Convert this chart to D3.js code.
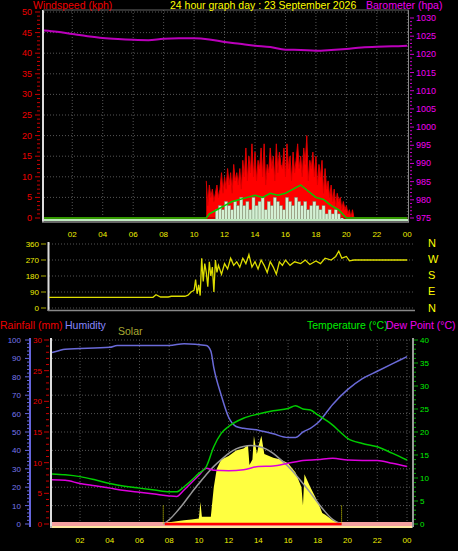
<!DOCTYPE html><html><head><meta charset="utf-8">
<script src="https://cdn.jsdelivr.net/npm/d3@7/dist/d3.min.js"></script>
<style>body{margin:0;background:#000}svg{display:block}text{font-family:"Liberation Sans",Arial,sans-serif}</style></head><body>
<script>
const hourTicks=[2,4,6,8,10,12,14,16,18,20,22,24];
const hourLabels=["02","04","06","08","10","12","14","16","18","20","22","00"];
// barometer [hour, hpa]
const baro=[[0,1026.6],[1,1026.2],[2,1025.6],[3,1025],[4,1024.5],[5,1024.2],[6,1024],[7,1023.9],[8,1024.3],[9,1024.4],[10,1024.4],[11,1024.1],[12,1023.4],[13,1022.9],[14,1022.4],[15,1022],[16,1021.3],[17,1021.2],[18,1021],[19,1021.2],[20,1021.5],[21,1021.9],[22,1022.1],[23,1022.2],[24,1022.4]];
// gust kph, every 0.1h from 10.8
const gustStart=10.8;
const gust=[9,3,8,5,7,4,6,8,5,7,11,6, 10,7,12,8,11,6,13,9,11,8, 12,7,14,10,17,9,15,11,18,10, 16,9,14,12,17,10,18,8,13,11, 17,12,15,9,18,11,16,13,12,17, 10,18,12,15,9,16,11,14,18,12, 15,10,17,13,20,9,14,12,16,10, 15,8,13,10,14,6,12,7,9,5, 8,4,7,3,6,4,5,2,4,2, 3,1,2,0,2,0,0];
const avgWind=[[0,0],[10.8,0],[11,1],[11.5,2],[12,3],[12.5,4],[13,4.5],[13.5,5],[14,5.5],[14.5,5],[15,6],[15.5,5.5],[16,6],[16.5,7],[17,8],[17.5,6.5],[18,5],[18.5,4.5],[19,3],[19.5,2],[20,0],[24,0]];
// wind speed bars every 0.2h from 11.4
const speedStart=11.4;
const speed=[2,3,2,4,3,2,4,3,5,3,4,2,5,3,4,5,2,4,3,5,4,3,2,5,4,3,5,4,3,4,2,3,4,3,2,3,1,2,1,2,1,0];
// wind direction [hour, deg]
const dir=[[0,60],[7.3,60],[7.5,75],[7.8,62],[8.3,62],[8.5,66],[9.4,66],[9.6,72],[9.8,90],[10,100],[10.1,160],[10.2,80],[10.3,130],[10.4,70],[10.5,280],[10.6,150],[10.7,250],[10.8,200],[10.9,120],[11,260],[11.1,180],[11.2,230],[11.3,90],[11.4,270],[11.5,200],[11.6,240],[11.8,190],[12,250],[12.2,220],[12.4,280],[12.6,240],[12.8,260],[13,230],[13.2,280],[13.4,250],[13.6,300],[13.8,230],[14,260],[14.2,220],[14.4,270],[14.6,240],[14.8,200],[15,260],[15.2,230],[15.4,190],[15.6,260],[15.8,240],[16,270],[16.3,240],[16.6,260],[17,250],[17.3,270],[17.6,245],[18,265],[18.3,250],[18.6,280],[19,270],[19.3,290],[19.5,320],[19.7,280],[20,290],[20.2,265],[20.5,270],[24,270]];
// bottom panel
const hum=[[0,93],[0.5,94],[1,95],[4,96],[4.5,97],[8,97],[9,98],[10.5,97],[10.8,94],[11,85],[11.5,70],[12,58],[12.5,53],[13,52],[14,51],[15,49],[16,47],[16.5,47],[17,50],[17.5,52],[18,55],[19,65],[20,73],[21,79],[22,83],[23,87],[24,91]];
const temp=[[0,10.9],[1,10.7],[2,10.3],[3,9.6],[4,8.8],[5,8.2],[6,7.8],[7,7.4],[8,7],[8.5,7],[9,8.1],[10,11],[10.5,12.5],[11,16.8],[11.5,19.7],[12,21.2],[13,23],[14,23.9],[15,24.6],[16,25.1],[16.5,25.7],[17,25],[17.5,24.8],[18,23.7],[19,21.5],[19.5,20],[20,18.6],[21,17.5],[22,16.8],[23,15.4],[24,13.9]];
const dew=[[0,9.6],[1,9.5],[2,8.8],[3,8.3],[4,7.8],[5,7.3],[6,6.9],[7,6.5],[8,6.1],[8.5,6],[9,7.4],[10,10.6],[10.5,12.1],[11,11.7],[12,11.6],[13,11.8],[14,12.5],[15,12.6],[16,13.2],[17,13.8],[18,14],[19,14.3],[20,13.9],[21,13.8],[22,13.8],[23,13.2],[24,12.5]];
const solar=[[7.6,0],[8,1],[9,2],[9.5,2.5],[10,3],[10.1,12],[10.2,4],[10.8,4],[11,20],[11.2,30],[11.5,35],[12,37],[12.5,40],[13,41],[13.3,43],[13.4,32],[13.6,35],[13.7,48],[13.9,38],[14,42],[14.2,48],[14.4,38],[15,36],[15.5,35],[16,33],[16.5,28],[16.9,20],[17,10],[17.1,27],[17.5,20],[18,12],[18.3,6],[18.5,5],[19,2],[19.6,0]];
const solarMax=[[7.6,0],[8,2],[8.5,6.5],[9,11.5],[9.5,17],[10,22],[10.5,27],[11,31.5],[11.5,35],[12,38.5],[12.5,41],[13,42.3],[13.5,42.8],[14,42.3],[14.5,41],[15,38.5],[15.5,35],[16,31.5],[16.5,27],[17,22],[17.5,17],[18,11.5],[18.5,6.5],[19,2],[19.6,0]];
const sunTimes=[7.6,19.6];

const W=458,H=551;
const svg=d3.select("body").append("svg").attr("width",W).attr("height",H);
const dotted="#555";
function txt(x,y,s,c,size,anchor){return svg.append("text").attr("x",x).attr("y",y).attr("fill",c).attr("font-size",size||9).attr("text-anchor",anchor||"start").text(s);}

// ---------- top panel ----------
const xT=d3.scaleLinear([0,24],[41.8,407.3]);
const yW=d3.scaleLinear([0,50],[218,12]);
const yB=d3.scaleLinear([975,1030],[218,18]);
const gT=svg.append("g");
gT.selectAll(".hg").data(d3.range(0,51,5)).join("line").attr("x1",44).attr("x2",408).attr("y1",d=>yW(d)).attr("y2",d=>yW(d)).attr("stroke",dotted).attr("stroke-dasharray","1,2");
gT.selectAll(".vg").data(hourTicks).join("line").attr("x1",d=>xT(d)).attr("x2",d=>xT(d)).attr("y1",10).attr("y2",221).attr("stroke",dotted).attr("stroke-dasharray","1,2");
gT.selectAll(".ml").data(d3.range(0,51,1)).join("line").attr("x1",d=>d%5?37:35).attr("x2",40).attr("y1",d=>yW(d)).attr("y2",d=>yW(d)).attr("stroke","#c00");
gT.selectAll(".lt").data(d3.range(0,51,5)).join("text").attr("x",32).attr("y",d=>yW(d)+3).attr("text-anchor","end").attr("fill","#e00").attr("font-size",9).text(d=>d);
gT.selectAll(".mr").data(d3.range(975,1031,1)).join("line").attr("x1",410).attr("x2",d=>d%5?412:414).attr("y1",d=>yB(d)).attr("y2",d=>yB(d)).attr("stroke","#c0c");
gT.selectAll(".rt").data(d3.range(975,1031,5)).join("text").attr("x",416).attr("y",d=>yB(d)+3).attr("fill","#e0e").attr("font-size",9).text(d=>d);
svg.append("clipPath").attr("id","ct").append("rect").attr("x",44).attr("y",10).attr("width",364).attr("height",211);
const pT=svg.append("g").attr("clip-path","url(#ct)");
const gustPts=gust.map((v,i)=>[gustStart+i*0.1,v]);
pT.append("path").datum(gustPts).attr("d",d3.area().x(d=>xT(d[0])).y0(yW(0)).y1(d=>yW(d[1]))).attr("fill","#f00");
pT.append("path").datum(gustPts).attr("d",d3.line().x(d=>xT(d[0])).y(d=>yW(d[1]))).attr("fill","none").attr("stroke","#d00").attr("stroke-width",1);
pT.append("path").datum([[0,0],[24,0]]).attr("d",d3.line().x(d=>xT(d[0])).y(d=>yW(d[1]))).attr("stroke","#c00").attr("stroke-width",2);
pT.selectAll(".sb").data(speed).join("rect").attr("x",(d,i)=>xT(speedStart+i*0.2)).attr("width",xT(0.2)-xT(0)).attr("y",d=>yW(d)).attr("height",d=>yW(0)-yW(d)+3).attr("fill","#d4f0d4").attr("stroke","#6a8a6a").attr("stroke-width",0.4);
pT.append("line").attr("x1",44).attr("x2",408).attr("y1",220).attr("y2",220).attr("stroke","#bfe8bf").attr("stroke-width",2);
pT.append("path").datum(avgWind).attr("d",d3.line().x(d=>xT(d[0])).y(d=>yW(d[1]))).attr("fill","none").attr("stroke","#0c0").attr("stroke-width",1.5);
pT.append("path").datum(baro).attr("d",d3.line().x(d=>xT(d[0])).y(d=>yB(d[1])).curve(d3.curveMonotoneX)).attr("fill","none").attr("stroke","#b0b").attr("stroke-width",2);
gT.append("line").attr("x1",43).attr("x2",43).attr("y1",10).attr("y2",222).attr("stroke","#ddd").attr("stroke-width",2);
gT.append("line").attr("x1",42).attr("x2",409).attr("y1",222).attr("y2",222).attr("stroke","#888").attr("stroke-width",1.5);
gT.append("line").attr("x1",408.5).attr("x2",408.5).attr("y1",10).attr("y2",222).attr("stroke","#888");
gT.append("line").attr("x1",43).attr("x2",409).attr("y1",10).attr("y2",10).attr("stroke","#666");
gT.selectAll(".xl").data(hourTicks).join("text").attr("x",d=>xT(d)).attr("y",237).attr("text-anchor","middle").attr("fill","#ee0").attr("font-size",8).text((d,i)=>hourLabels[i]);
txt(33,9,"Windspeed (kph)","#e00",10.5);
txt(170,9,"24 hour graph day : 23 September 2026","#ff0",10.5);
txt(366,9,"Barometer (hpa)","#e0e",10.5);

// ---------- middle panel ----------
const yD=d3.scaleLinear([0,360],[308,244]);
const gM=svg.append("g");
gM.selectAll(".hg").data([0,90,180,270,360]).join("line").attr("x1",49).attr("x2",414).attr("y1",d=>yD(d)).attr("y2",d=>yD(d)).attr("stroke",dotted).attr("stroke-dasharray","1,2");
gM.selectAll(".t").data([0,90,180,270,360]).join("line").attr("x1",41).attr("x2",46).attr("y1",d=>yD(d)).attr("y2",d=>yD(d)).attr("stroke","#aa0");
gM.selectAll(".tl").data([0,90,180,270,360]).join("text").attr("x",39).attr("y",d=>yD(d)+3).attr("text-anchor","end").attr("fill","#ee0").attr("font-size",8).text(d=>d);
svg.append("clipPath").attr("id","cm").append("rect").attr("x",49).attr("y",240).attr("width",365).attr("height",72);
svg.append("g").attr("clip-path","url(#cm)").append("path").datum(dir).attr("d",d3.line().x(d=>xT(d[0])).y(d=>yD(d[1]))).attr("fill","none").attr("stroke","#dd0").attr("stroke-width",1.3);
gM.append("line").attr("x1",48.5).attr("x2",48.5).attr("y1",242).attr("y2",311).attr("stroke","#ddd").attr("stroke-width",2);
gM.append("line").attr("x1",48).attr("x2",415).attr("y1",310.5).attr("y2",310.5).attr("stroke","#888").attr("stroke-width",1.5);
["N","W","S","E","N"].forEach((s,i)=>txt(428,[243,259,275,291,308][i]+4,s,"#ff0",11));

// ---------- bottom panel ----------
const xB=d3.scaleLinear([0,24],[50.3,407]);
const yH=d3.scaleLinear([0,100],[524,340]);
const yR=d3.scaleLinear([0,30],[524,340]);
const yTp=d3.scaleLinear([0,40],[524,340]);
const gB=svg.append("g");
gB.selectAll(".hg").data(d3.range(0,101,10)).join("line").attr("x1",52).attr("x2",411).attr("y1",d=>yH(d)).attr("y2",d=>yH(d)).attr("stroke",dotted).attr("stroke-dasharray","1,2");
gB.selectAll(".vg").data(hourTicks).join("line").attr("x1",d=>xB(d)).attr("x2",d=>xB(d)).attr("y1",340).attr("y2",526).attr("stroke",dotted).attr("stroke-dasharray","1,2");
gB.append("line").attr("x1",30).attr("x2",30).attr("y1",338).attr("y2",527).attr("stroke","#66d").attr("stroke-width",2);
gB.selectAll(".hm").data(d3.range(0,101,2)).join("line").attr("x1",d=>d%10?27:25).attr("x2",30).attr("y1",d=>yH(d)).attr("y2",d=>yH(d)).attr("stroke","#66d");
gB.selectAll(".hl").data(d3.range(0,101,10)).join("text").attr("x",21).attr("y",d=>yH(d)+3).attr("text-anchor","end").attr("fill","#77e").attr("font-size",8).text(d=>d);
gB.selectAll(".rm").data(d3.range(0,31,1)).join("line").attr("x1",d=>d%5?46:44).attr("x2",49).attr("y1",d=>yR(d)).attr("y2",d=>yR(d)).attr("stroke","#c00");
gB.selectAll(".rl").data(d3.range(0,31,5)).join("text").attr("x",42).attr("y",d=>yR(d)+3).attr("text-anchor","end").attr("fill","#e00").attr("font-size",8).text(d=>d);
gB.append("line").attr("x1",413).attr("x2",413).attr("y1",338).attr("y2",527).attr("stroke","#ccc").attr("stroke-width",1.5);
gB.selectAll(".tm").data(d3.range(0,41,1)).join("line").attr("x1",414).attr("x2",d=>d%5?416:418).attr("y1",d=>yTp(d)).attr("y2",d=>yTp(d)).attr("stroke","#0a0");
gB.selectAll(".tl").data(d3.range(0,41,5)).join("text").attr("x",420).attr("y",d=>yTp(d)+3).attr("fill","#0e0").attr("font-size",8).text(d=>d);
svg.append("clipPath").attr("id","cb").append("rect").attr("x",52).attr("y",338).attr("width",360).attr("height",190);
const pB=svg.append("g").attr("clip-path","url(#cb)");
pB.append("rect").attr("x",52).attr("width",360).attr("y",yR(0)-2).attr("height",6).attr("fill","#f4a0a0");
pB.append("path").datum(solar).attr("d",d3.area().x(d=>xB(d[0])).y0(yH(0)).y1(d=>yH(d[1]))).attr("fill","#ffff40");
pB.append("path").datum(solarMax).attr("d",d3.line().x(d=>xB(d[0])).y(d=>yH(d[1])).curve(d3.curveBasis)).attr("fill","none").attr("stroke","#999").attr("stroke-width",1.5);
pB.selectAll(".st").data(sunTimes).join("line").attr("x1",d=>xB(d)).attr("x2",d=>xB(d)).attr("y1",yH(10)).attr("y2",yH(0)).attr("stroke","#dd0").attr("stroke-dasharray","1,1");
pB.append("line").attr("x1",xB(7.7)).attr("x2",xB(19.6)).attr("y1",yR(0)).attr("y2",yR(0)).attr("stroke","#f00").attr("stroke-width",2.5);
pB.append("line").attr("x1",52).attr("x2",412).attr("y1",yR(0)+3).attr("y2",yR(0)+3).attr("stroke","#ffffa0").attr("stroke-width",1.5);
const ln=(y)=>d3.line().x(d=>xB(d[0])).y(d=>y(d[1])).curve(d3.curveMonotoneX);
pB.append("path").datum(hum).attr("d",ln(yH)).attr("fill","none").attr("stroke","#6a6ad8").attr("stroke-width",1.5);
pB.append("path").datum(dew).attr("d",ln(yTp)).attr("fill","none").attr("stroke","#d0d").attr("stroke-width",1.5);
pB.append("path").datum(temp).attr("d",ln(yTp)).attr("fill","none").attr("stroke","#0c0").attr("stroke-width",1.5);
gB.append("line").attr("x1",51).attr("x2",51).attr("y1",338).attr("y2",528).attr("stroke","#ddd").attr("stroke-width",2);
gB.append("line").attr("x1",50).attr("x2",413).attr("y1",527).attr("y2",527).attr("stroke","#aaa").attr("stroke-width",1.5);
gB.selectAll(".xl").data(hourTicks).join("text").attr("x",d=>xB(d)).attr("y",543).attr("text-anchor","middle").attr("fill","#ee0").attr("font-size",8).text((d,i)=>hourLabels[i]);
txt(0,329,"Rainfall (mm)","#e00",10.5);
txt(65,329,"Humidity","#88f",10.5);
txt(118,335,"Solar","#aa3",10.5);
txt(307,329,"Temperature (°C)","#0e0",10.5);
txt(386,329,"Dew Point (°C)","#e0e",10.5);
</script></body></html>
